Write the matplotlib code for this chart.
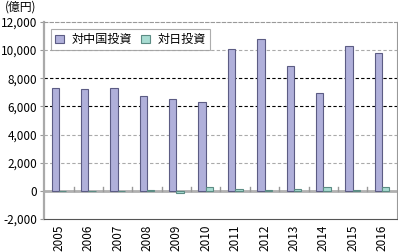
import matplotlib
matplotlib.use("Agg")
import matplotlib.pyplot as plt
import numpy as np

plt.rcParams['font.family'] = ['Noto Sans CJK JP', 'DejaVu Sans']

# data (億円)
years = ['2005', '2006', '2007', '2008', '2009', '2010',
         '2011', '2012', '2013', '2014', '2015', '2016']
to_china = [7300, 7200, 7300, 6750, 6500, 6300, 10070, 10780, 8870, 6950, 10280, 9790]
to_japan = [10, 10, 10, 30, -150, 250, 100, 30, 100, 300, 80, 300]

fig = plt.figure(figsize=(3.98, 2.52), dpi=100)
ax = fig.add_axes([0.111, 0.131, 0.886, 0.782])

x = np.arange(len(years))
w = 0.25
ax.bar(x - w / 2, to_china, w, color='#b0b0da', edgecolor='#5c5c84', linewidth=0.8,
       label='対中国投資', zorder=3)
ax.bar(x + w / 2, to_japan, w, color='#a8dcd2', edgecolor='#5c8c84', linewidth=0.8,
       label='対日投資', zorder=3)

ax.set_xlim(-0.5, len(years) - 0.5)
ax.set_ylim(-2000, 12000)
ax.set_yticks(range(-2000, 12001, 2000))
ax.set_yticklabels([f'{v:,}' for v in range(-2000, 12001, 2000)], fontsize=8.5)

# gridlines: black for 6000/8000, gray elsewhere
for v in [2000, 4000, 10000]:
    ax.axhline(v, color='#aaaaaa', linestyle=(0, (3, 2)), linewidth=0.8, zorder=1)
for v in [6000, 8000]:
    ax.axhline(v, color='black', linestyle=(0, (3, 2)), linewidth=0.8, zorder=1)
ax.axhline(0, color='#b0b0b0', linewidth=2, zorder=2)

# category separators on the zero line
for b in np.arange(0.5, len(years) - 1, 1):
    ax.plot([b, b], [0, 300], color='#999999', linewidth=1, zorder=2)

ax.set_xticks(x)
ax.set_xticklabels(years, rotation=90, fontsize=8.5)
ax.tick_params(axis='x', length=0, pad=4)
ax.tick_params(axis='y', length=3, color='#999999', pad=2)

ax.spines['top'].set_linestyle((0, (3, 2)))
ax.spines['top'].set_color('#999999')
ax.spines['right'].set_color('#999999')
ax.spines['left'].set_color('#aaaaaa')
ax.spines['left'].set_linewidth(1.6)
ax.spines['bottom'].set_color('#555555')

leg = ax.legend(loc='upper left', ncol=2, fontsize=8.7, frameon=True, fancybox=False,
                edgecolor='#999999', handlelength=0.7, handleheight=0.7,
                handletextpad=0.6, columnspacing=0.8, borderpad=0.35,
                borderaxespad=0.0, bbox_to_anchor=(0.02, 0.965))
leg.get_frame().set_linewidth(0.8)

fig.text(0.012, 0.997, '(億円)', fontsize=8.5, va='top', ha='left')

fig.savefig('out.png', dpi=100)
